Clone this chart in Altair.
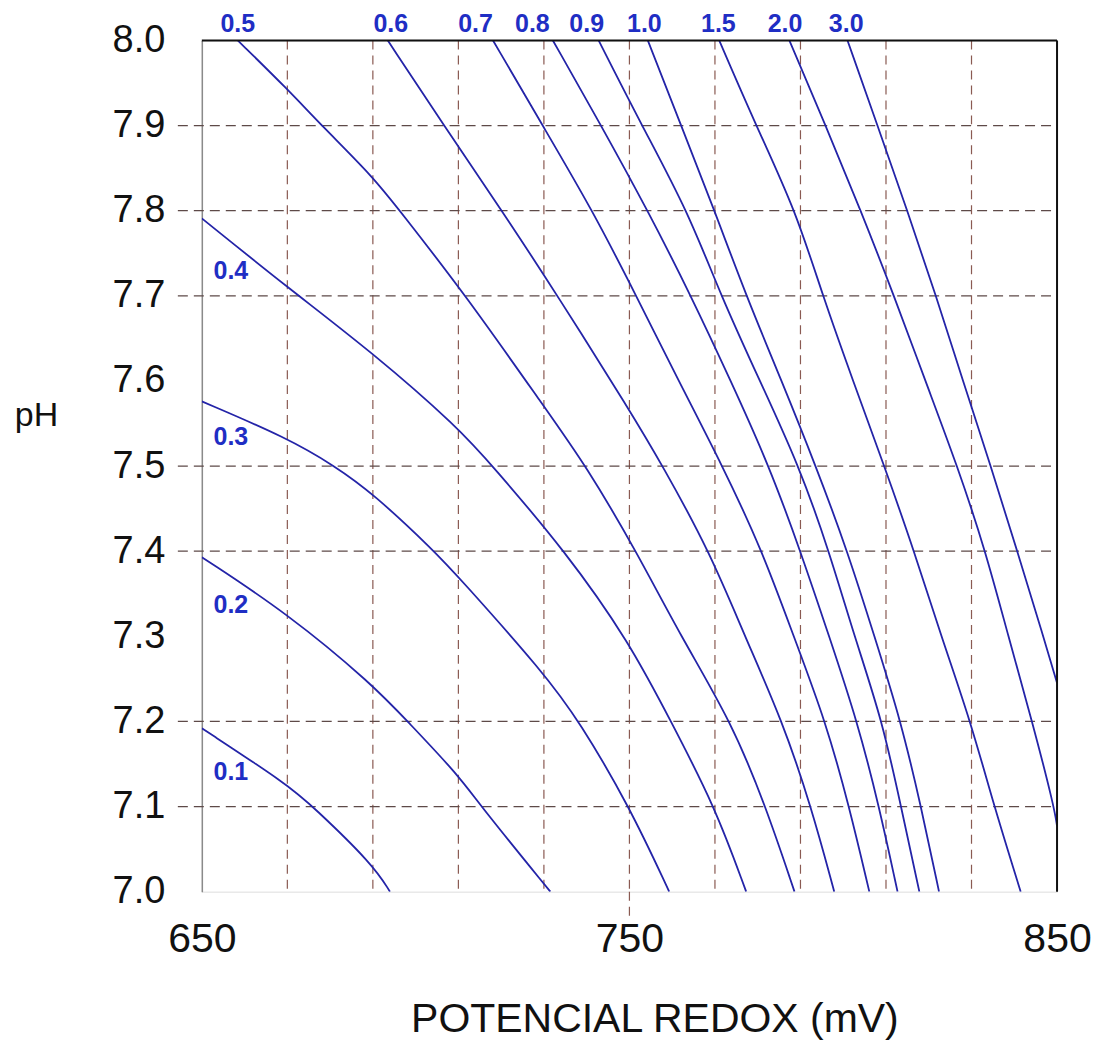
import altair as alt
import pandas as pd

# ---- curve data (ORP mV, pH) per free-chlorine level ----
c01_mv = [650, 670, 676, 690, 694]
c01_ph = [7.192, 7.126, 7.1, 7.032, 7.0]
c02_mv = [650, 670, 690, 698.1, 710, 715.3, 731.5]
c02_ph = [7.393, 7.327, 7.243, 7.2, 7.137, 7.1, 7.0]
c03_mv = [650, 670, 681.1, 690, 704.4, 710, 730, 738.3, 750, 759.3]
c03_ph = [7.576, 7.533, 7.5, 7.468, 7.4, 7.37, 7.257, 7.2, 7.1, 7.0]
c04_mv = [650, 670, 690, 710, 718, 735, 750, 759.7, 770, 777.3]
c04_ph = [7.791, 7.71, 7.633, 7.545, 7.5, 7.4, 7.293, 7.2, 7.1, 7.0]
c05_mv = [658.4, 670, 678, 690, 696.3, 711.8, 730, 739.9, 751.6, 762, 773.8, 781.9, 788.6]
c05_ph = [8.0, 7.943, 7.9, 7.84, 7.8, 7.7, 7.57, 7.5, 7.4, 7.3, 7.2, 7.1, 7.0]
c06_mv = [693.5, 706.6, 720.2, 733.2, 750, 757.8, 768.7, 777, 785.8, 792.5, 797.9]
c06_ph = [8.0, 7.9, 7.8, 7.7, 7.566, 7.5, 7.4, 7.3, 7.2, 7.1, 7.0]
c07_mv = [718.1, 729.7, 741.4, 751.6, 761.5, 771.8, 781.1, 788.4, 795.9, 801.4, 806.1]
c07_ph = [8.0, 7.9, 7.8, 7.7, 7.6, 7.5, 7.4, 7.3, 7.2, 7.1, 7.0]
c08_mv = [732.1, 743.4, 754.3, 764.4, 773.7, 782.7, 790.0, 796.7, 803.3, 808.4, 812.7]
c08_ph = [8.0, 7.9, 7.8, 7.7, 7.6, 7.5, 7.4, 7.3, 7.2, 7.1, 7.0]
c09_mv = [742.8, 752.9, 763.6, 771.4, 780.5, 789.7, 796.7, 802.6, 809.2, 813.5, 817.8]
c09_ph = [8.0, 7.9, 7.8, 7.7, 7.6, 7.5, 7.4, 7.3, 7.2, 7.1, 7.0]
c10_mv = [754.3, 762.1, 769.9, 777.3, 785.6, 793.6, 801.0, 807.3, 813.5, 818.2, 822.4]
c10_ph = [8.0, 7.9, 7.8, 7.7, 7.6, 7.5, 7.4, 7.3, 7.2, 7.1, 7.0]
c15_mv = [771.0, 779.6, 788.9, 795.2, 802.3, 809.6, 816.6, 822.9, 829.8, 835.3, 841.5]
c15_ph = [8.0, 7.9, 7.8, 7.7, 7.6, 7.5, 7.4, 7.3, 7.2, 7.1, 7.0]
c20_mv = [787.4, 795.9, 804.1, 811.9, 819.2, 826.7, 833.3, 838.6, 844.2, 849.3, 850]
c20_ph = [8.0, 7.9, 7.8, 7.7, 7.6, 7.5, 7.4, 7.3, 7.2, 7.1, 7.077]
c30_mv = [801.0, 808.0, 815.0, 821.7, 828.0, 834.5, 840.7, 846.8, 850]
c30_ph = [8.0, 7.9, 7.8, 7.7, 7.6, 7.5, 7.4, 7.3, 7.245]

curves = {
    "0.1": (c01_mv, c01_ph), "0.2": (c02_mv, c02_ph), "0.3": (c03_mv, c03_ph),
    "0.4": (c04_mv, c04_ph), "0.5": (c05_mv, c05_ph), "0.6": (c06_mv, c06_ph),
    "0.7": (c07_mv, c07_ph), "0.8": (c08_mv, c08_ph), "0.9": (c09_mv, c09_ph),
    "1.0": (c10_mv, c10_ph), "1.5": (c15_mv, c15_ph), "2.0": (c20_mv, c20_ph),
    "3.0": (c30_mv, c30_ph),
}

# ---- labels ----
top_labels = ["0.5", "0.6", "0.7", "0.8", "0.9", "1.0", "1.5", "2.0", "3.0"]
top_label_mv = [658.4, 694.2, 714.0, 727.3, 740.0, 753.5, 770.8, 786.4, 800.7]
left_labels = ["0.4", "0.3", "0.2", "0.1"]
left_label_ph = [7.729, 7.534, 7.337, 7.140]
left_label_mv = [656.8, 656.8, 656.8, 656.8]

# ---- grid / ticks ----
vgrid_mv = [670, 690, 710, 730, 750, 770, 790, 810, 830]
hgrid_ph = [7.1, 7.2, 7.4, 7.5, 7.7, 7.8, 7.9]
x_ticks = [650, 750, 850]
y_ticks = [7.0, 7.1, 7.2, 7.3, 7.4, 7.5, 7.6, 7.7, 7.8, 7.9, 8.0]

rows = []
for lvl, (mv, ph) in curves.items():
    for i, (a, b) in enumerate(zip(mv, ph)):
        rows.append({"level": lvl, "i": i, "mV": a, "pH": b})
df = pd.DataFrame(rows)

W, H = 856, 852
FONT = "Liberation Sans"

xs = alt.Scale(domain=[650, 850], nice=False, zero=False)
ys = alt.Scale(domain=[7.0, 8.0], nice=False, zero=False)

X = alt.X("mV:Q", scale=xs, axis=alt.Axis(
    values=x_ticks, title="POTENCIAL REDOX (mV)", grid=False, ticks=False, domain=False,
    labelFontSize=41, labelFont=FONT, labelColor="#111111", labelPadding=28,
    labelFlush=False, labelOverlap=False, format="d",
    titleFontSize=41, titleFont=FONT, titleFontWeight="normal", titleColor="#111111",
    titleX=453, titleY=128, titleBaseline="middle"))
Y = alt.Y("pH:Q", scale=ys, axis=alt.Axis(
    values=y_ticks, format=".1f", title="pH", grid=False, ticks=False,
    domain=True, domainColor="#8a8a8a", domainWidth=1.5,
    labelFontSize=38, labelFont=FONT, labelColor="#111111", labelPadding=37,
    labelFlush=False, labelOverlap=False,
    titleFontSize=34, titleFont=FONT, titleFontWeight="normal", titleColor="#111111",
    titleAngle=0, titleX=-166, titleY=375, titleAlign="center", titleBaseline="middle"))

grid_v = alt.Chart(pd.DataFrame({"mV": vgrid_mv})).mark_rule(
    color="#8a5a52", strokeDash=[9, 6], strokeWidth=1.2
).encode(x=X, y=alt.value(0), y2=alt.value(H))

grid_v_ext = alt.Chart(pd.DataFrame({"mV": [750]})).mark_rule(
    color="#8a5a52", strokeDash=[9, 6], strokeWidth=1.2
).encode(x=X, y=alt.value(H), y2=alt.value(H + 30))

grid_h = alt.Chart(pd.DataFrame({"pH": hgrid_ph})).mark_rule(
    color="#5e4a48", strokeDash=[10, 6], strokeWidth=1.3
).encode(y=Y, x=alt.value(-24), x2=alt.value(W))

frame_top = alt.Chart(pd.DataFrame({"k": [0]})).mark_rule(color="#111111", strokeWidth=2).encode(
    x=alt.value(0), x2=alt.value(W), y=alt.value(0))
frame_right = alt.Chart(pd.DataFrame({"k": [0]})).mark_rule(color="#111111", strokeWidth=2).encode(
    x=alt.value(W), y=alt.value(0), y2=alt.value(H))

lines = alt.Chart(df).mark_line(color="#2424a8", strokeWidth=1.8, clip=True,
                                interpolate="basis").encode(
    x=X, y=Y, detail="level:N", order="i:Q")

top_txt = alt.Chart(pd.DataFrame({"mV": top_label_mv, "lab": top_labels})).mark_text(
    fontSize=25, fontWeight="bold", font=FONT, color="#1f2ec4", baseline="middle"
).encode(x=X, y=alt.value(-16), text="lab:N")

left_txt = alt.Chart(pd.DataFrame({"mV": left_label_mv, "pH": left_label_ph, "lab": left_labels})).mark_text(
    fontSize=25, fontWeight="bold", font=FONT, color="#1f2ec4", baseline="middle"
).encode(x=X, y=Y, text="lab:N")

chart = alt.layer(
    grid_v, grid_v_ext, grid_h, lines, frame_top, frame_right, top_txt, left_txt
).properties(
    width=W, height=H,
    autosize=alt.AutoSizeParams(type="none"),
    padding={"left": 194, "top": 32, "right": 36, "bottom": 148},
).configure_view(stroke=None).configure(background="white")

chart.save("out.html", embed_options={"renderer": "svg", "actions": False})
